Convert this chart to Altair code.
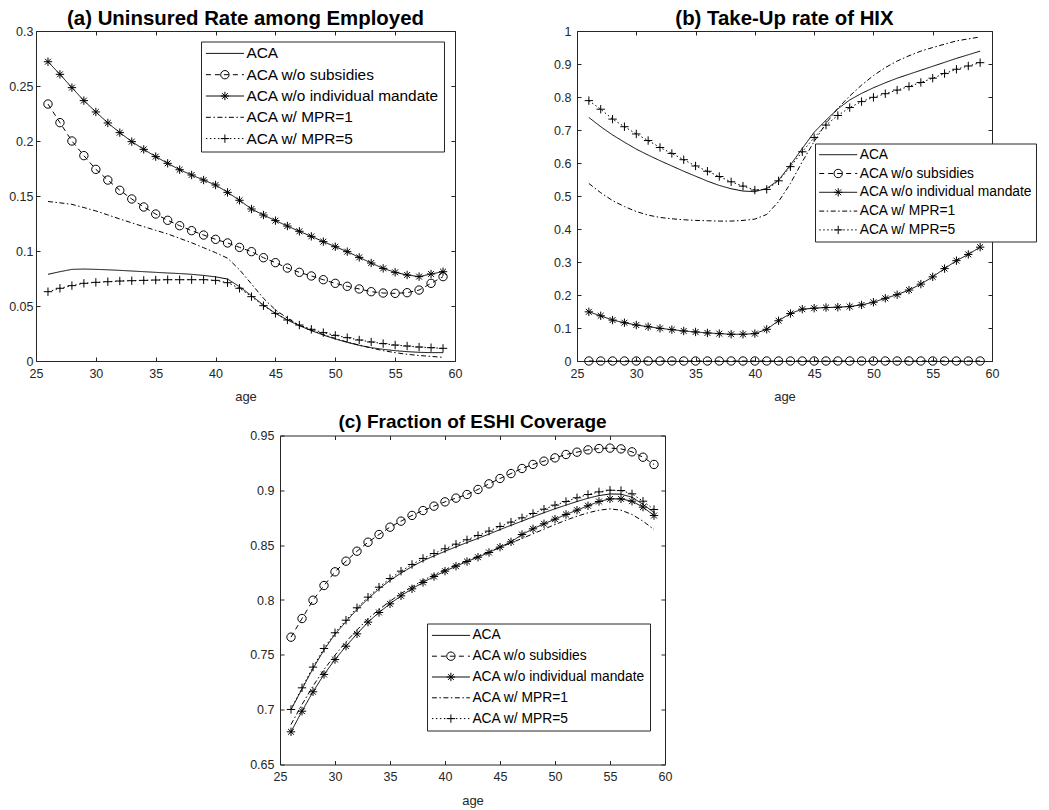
import altair as alt
import pandas as pd

FONT = "Liberation Sans"
INK = "#262626"

ages = list(range(26, 60))
series_names = ["ACA", "ACA w/o subsidies", "ACA w/o individual mandate",
                "ACA w/ MPR=1", "ACA w/ MPR=5"]
marker_keys = ["k1", "k2", "k3", "k4", "k5"]
x_ticks = [25, 30, 35, 40, 45, 50, 55, 60]

# (a) Uninsured rate among employed
a_aca = [0.0788, 0.0812, 0.0833, 0.0836, 0.0833, 0.0829, 0.0824, 0.0818, 0.0812, 0.0806,
         0.0800, 0.0795, 0.0788, 0.0778, 0.0765, 0.0745, 0.0676, 0.0594, 0.0509, 0.0433,
         0.0373, 0.0321, 0.0276, 0.0236, 0.0200, 0.0170, 0.0142, 0.0121, 0.0106, 0.0094,
         0.0085, 0.0079, 0.0076, 0.0076]
a_nosub = [0.2336, 0.2167, 0.2000, 0.1867, 0.1742, 0.1645, 0.1552, 0.1473, 0.1400, 0.1336,
           0.1279, 0.1230, 0.1185, 0.1145, 0.1106, 0.1073, 0.1033, 0.0994, 0.0939, 0.0894,
           0.0845, 0.0806, 0.0773, 0.0739, 0.0706, 0.0679, 0.0655, 0.0630, 0.0618, 0.0615,
           0.0621, 0.0645, 0.0706, 0.0767]
a_nomand = [0.2721, 0.2606, 0.2485, 0.2367, 0.2264, 0.2164, 0.2076, 0.1994, 0.1924, 0.1858,
            0.1797, 0.1739, 0.1691, 0.1645, 0.1600, 0.1533, 0.1461, 0.1382, 0.1327, 0.1276,
            0.1227, 0.1179, 0.1133, 0.1085, 0.1039, 0.0994, 0.0942, 0.0891, 0.0842, 0.0806,
            0.0782, 0.0767, 0.0791, 0.0812]
a_mpr1 = [0.1450, 0.1438, 0.1424, 0.1395, 0.1364, 0.1328, 0.1291, 0.1256, 0.1221, 0.1188,
          0.1155, 0.1115, 0.1075, 0.1030, 0.0985, 0.0935, 0.0830, 0.0700, 0.0570, 0.0465,
          0.0390, 0.0325, 0.0280, 0.0240, 0.0205, 0.0172, 0.0145, 0.0118, 0.0094, 0.0076,
          0.0061, 0.0050, 0.0042, 0.0033]
a_mpr5 = [0.0630, 0.0661, 0.0685, 0.0706, 0.0715, 0.0721, 0.0727, 0.0730, 0.0733, 0.0736,
          0.0739, 0.0739, 0.0739, 0.0739, 0.0733, 0.0712, 0.0661, 0.0585, 0.0503, 0.0433,
          0.0373, 0.0327, 0.0288, 0.0258, 0.0233, 0.0212, 0.0191, 0.0173, 0.0158, 0.0145,
          0.0136, 0.0127, 0.0121, 0.0115]

# (b) Take-up rate of HIX
b_aca = [0.738, 0.710, 0.685, 0.663, 0.642, 0.624, 0.607, 0.591, 0.575, 0.560,
         0.545, 0.532, 0.522, 0.515, 0.513, 0.523, 0.548, 0.594, 0.644, 0.693,
         0.730, 0.764, 0.791, 0.811, 0.828, 0.843, 0.857, 0.869, 0.881, 0.893,
         0.905, 0.917, 0.928, 0.939]
b_nosub = [0.0, 0.0, 0.0, 0.0, 0.0, 0.0, 0.0, 0.0, 0.0, 0.0,
           0.0, 0.0, 0.0, 0.0, 0.0, 0.0, 0.0, 0.0, 0.0, 0.0,
           0.0, 0.0, 0.0, 0.0, 0.0, 0.0, 0.0, 0.0, 0.0, 0.0,
           0.0, 0.0, 0.0, 0.0]
b_nomand = [0.149, 0.137, 0.124, 0.116, 0.109, 0.104, 0.099, 0.095, 0.091, 0.088,
            0.085, 0.083, 0.081, 0.081, 0.083, 0.096, 0.122, 0.144, 0.157, 0.160,
            0.162, 0.163, 0.165, 0.170, 0.178, 0.190, 0.201, 0.215, 0.233, 0.255,
            0.280, 0.304, 0.323, 0.345]
b_mpr1 = [0.538, 0.510, 0.486, 0.468, 0.453, 0.442, 0.435, 0.431, 0.428, 0.426,
          0.425, 0.424, 0.424, 0.426, 0.430, 0.444, 0.483, 0.538, 0.604, 0.665,
          0.720, 0.766, 0.803, 0.836, 0.865, 0.889, 0.909, 0.925, 0.939, 0.950,
          0.960, 0.970, 0.976, 0.982]
b_mpr5 = [0.789, 0.763, 0.733, 0.710, 0.688, 0.668, 0.647, 0.629, 0.610, 0.591,
          0.575, 0.559, 0.543, 0.530, 0.518, 0.520, 0.546, 0.589, 0.634, 0.677,
          0.715, 0.744, 0.768, 0.786, 0.799, 0.810, 0.821, 0.832, 0.844, 0.857,
          0.871, 0.884, 0.894, 0.904]

# (c) Fraction of ESHI coverage
c_aca = [0.7000, 0.7188, 0.7375, 0.7545, 0.7688, 0.7803, 0.7914, 0.8011, 0.8101, 0.8179,
         0.8245, 0.8305, 0.8358, 0.8402, 0.8444, 0.8485, 0.8524, 0.8562, 0.8601, 0.8642,
         0.8681, 0.8719, 0.8758, 0.8796, 0.8832, 0.8865, 0.8898, 0.8928, 0.8952, 0.8967,
         0.8965, 0.8937, 0.8872, 0.8798]
c_nosub = [0.7661, 0.7831, 0.7998, 0.8132, 0.8257, 0.8354, 0.8445, 0.8527, 0.8597, 0.8664,
           0.8719, 0.8771, 0.8816, 0.8856, 0.8895, 0.8929, 0.8962, 0.9008, 0.9059, 0.9108,
           0.9153, 0.9199, 0.9236, 0.9266, 0.9296, 0.9327, 0.9348, 0.9369, 0.9381, 0.9385,
           0.9378, 0.9351, 0.9302, 0.9236]
c_nomand = [0.6798, 0.6986, 0.7163, 0.7321, 0.7457, 0.7579, 0.7691, 0.7798, 0.7886, 0.7965,
            0.8038, 0.8102, 0.8160, 0.8214, 0.8263, 0.8308, 0.8351, 0.8390, 0.8433, 0.8482,
            0.8530, 0.8597, 0.8649, 0.8695, 0.8737, 0.8780, 0.8819, 0.8859, 0.8898, 0.8922,
            0.8922, 0.8901, 0.8847, 0.8770]
c_mpr1 = [0.6865, 0.7047, 0.7215, 0.7366, 0.7497, 0.7618, 0.7728, 0.7828, 0.7913, 0.7989,
          0.8059, 0.8120, 0.8178, 0.8229, 0.8278, 0.8321, 0.8360, 0.8399, 0.8439, 0.8479,
          0.8521, 0.8561, 0.8603, 0.8646, 0.8688, 0.8728, 0.8764, 0.8795, 0.8819, 0.8831,
          0.8819, 0.8780, 0.8719, 0.8643]
c_mpr5 = [0.7002, 0.7199, 0.7388, 0.7558, 0.7701, 0.7816, 0.7929, 0.8026, 0.8117, 0.8196,
          0.8263, 0.8324, 0.8379, 0.8424, 0.8467, 0.8509, 0.8549, 0.8588, 0.8628, 0.8670,
          0.8710, 0.8749, 0.8789, 0.8828, 0.8865, 0.8898, 0.8932, 0.8962, 0.8986, 0.9001,
          0.8998, 0.8968, 0.8901, 0.8825]

# line styles (solid, dashed, solid, dash-dot, dotted) and markers
dash_range = [[1, 0], [5, 4], [1, 0], [5, 2.5, 1.5, 2.5], [1.5, 2.5]]
ASTERISK = "M-1,0L1,0M0,-1L0,1M-0.7,-0.7L0.7,0.7M-0.7,0.7L0.7,-0.7"
PLUS = "M-1,0L1,0M0,-1L0,1"
NONE = "M0,0"
shape_range = [NONE, "circle", ASTERISK, NONE, PLUS]
marked = ["k2", "k3", "k5"]

TICK = 4


def panel(title, tfs, toff, cols, ydomain, yticks, w, h, lx, ly, lfs, lpad, lrow,
          ylabpad):
    rows = []
    for name, key, vals in zip(series_names, marker_keys, cols):
        for age, v in zip(ages, vals):
            rows.append({"age": age, "value": v, "series": name, "key": key})
    df = pd.DataFrame(rows)
    xs = alt.Scale(domain=[25, 60], nice=False, zero=False)
    ys = alt.Scale(domain=ydomain, nice=False, zero=False)
    base = alt.Chart(df)
    lines = base.mark_line(color="black", strokeWidth=1).encode(
        x=alt.X("age:Q", scale=xs, title="age",
                axis=alt.Axis(values=x_ticks, format="d", orient="bottom", offset=-TICK,
                              tickSize=TICK, domain=False, grid=False, labelPadding=6,
                              labelFlush=False, titlePadding=11, minExtent=0)),
        y=alt.Y("value:Q", scale=ys, title=None,
                axis=alt.Axis(values=yticks, format="~g", orient="left", offset=-TICK,
                              tickSize=TICK, domain=False, grid=False,
                              labelPadding=ylabpad, minExtent=0)),
        strokeDash=alt.StrokeDash(
            "series:N", scale=alt.Scale(domain=series_names, range=dash_range),
            legend=alt.Legend(title=None, orient="none", legendX=lx, legendY=ly,
                              symbolType="stroke", symbolSize=1444, symbolStrokeWidth=1,
                              symbolStrokeColor="black", labelFont=FONT, labelFontSize=lfs,
                              labelColor="black", padding=lpad, rowPadding=lrow,
                              clipHeight=15, fillColor="white", strokeColor=INK,
                              labelOffset=2, symbolOffset=0, zindex=1, labelLimit=0)),
    )
    points = base.transform_filter(
        alt.FieldOneOfPredicate(field="key", oneOf=marked)
    ).mark_point(filled=False, color="black", size=70, strokeWidth=1, opacity=1).encode(
        x=alt.X("age:Q", scale=xs, title=None,
                axis=alt.Axis(values=x_ticks, orient="top", offset=-TICK, tickSize=TICK,
                              domain=False, grid=False, labels=False, minExtent=0)),
        y=alt.Y("value:Q", scale=ys, title=None,
                axis=alt.Axis(values=yticks, orient="right", offset=-TICK, tickSize=TICK,
                              domain=False, grid=False, labels=False, minExtent=0)),
        shape=alt.Shape(
            "key:N", scale=alt.Scale(domain=marker_keys, range=shape_range),
            legend=alt.Legend(title=None, orient="none", legendX=lx, legendY=ly,
                              symbolSize=70, symbolStrokeWidth=1, symbolStrokeColor="black",
                              symbolFillColor="transparent", labelFont=FONT,
                              labelFontSize=lfs, labelExpr="''", padding=lpad,
                              rowPadding=lrow, clipHeight=15,
                              symbolOffset=19.5 - lfs / 2, zindex=2)),
    )
    return alt.layer(lines, points).resolve_axis(
        x="independent", y="independent"
    ).properties(
        width=w, height=h,
        title=alt.TitleParams(title, font=FONT, fontSize=tfs, fontWeight="bold",
                              color="black", anchor="middle", frame="group",
                              baseline="alphabetic", offset=toff),
    )


pa = panel("(a) Uninsured Rate among Employed", 20.4, -20,
           [a_aca, a_nosub, a_nomand, a_mpr1, a_mpr5],
           [0, 0.3], [0, 0.05, 0.1, 0.15, 0.2, 0.25, 0.3], 419, 330,
           165, 10.5, 15.4, 4.4, 5.3, 3)
pb = panel("(b) Take-Up rate of HIX", 20.4, -20,
           [b_aca, b_nosub, b_nomand, b_mpr1, b_mpr5],
           [0, 1], [0, 0.1, 0.2, 0.3, 0.4, 0.5, 0.6, 0.7, 0.8, 0.9, 1], 415, 330,
           238, 112.5, 13.8, 3.7, 3.8, 6)
pc = panel("(c) Fraction of ESHI Coverage", 19, -17,
           [c_aca, c_nosub, c_nomand, c_mpr1, c_mpr5],
           [0.65, 0.95], [0.65, 0.7, 0.75, 0.8, 0.85, 0.9, 0.95], 385, 329,
           147, 188, 13.8, 4.4, 5.8, 6)

spacer = alt.Chart(pd.DataFrame({"s": [0]})).mark_point(opacity=0).encode(
    x=alt.X("s:Q", axis=None), y=alt.Y("s:Q", axis=None)
).properties(width=212, height=10, view=alt.ViewBackground(stroke="transparent"))

row1 = alt.hconcat(pa, pb, spacing=90).resolve_scale(
    strokeDash="independent", shape="independent").resolve_legend(
    strokeDash="independent", shape="independent")
row2 = alt.hconcat(spacer, pc, spacing=0).resolve_scale(
    strokeDash="independent", shape="independent").resolve_legend(
    strokeDash="independent", shape="independent")

chart = alt.vconcat(row1, row2, spacing=7.5).resolve_scale(
    strokeDash="independent", shape="independent").resolve_legend(
    strokeDash="independent", shape="independent").properties(
    padding=0, background="white"
).configure_view(stroke=INK, strokeWidth=1).configure_axis(
    labelFont=FONT, labelFontSize=12.5, labelColor=INK, tickColor=INK, tickWidth=1,
    titleFont=FONT, titleFontSize=13, titleFontWeight="normal", titleColor=INK,
    zindex=0, minExtent=0
)

chart.save("out.html", embed_options={"renderer": "svg", "actions": False})
